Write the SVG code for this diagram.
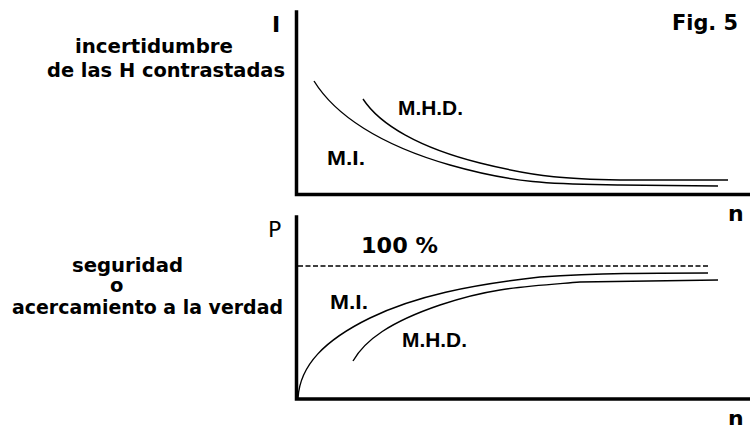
<svg xmlns="http://www.w3.org/2000/svg" width="750" height="425" viewBox="0 0 750 425">
<style>
.ax{stroke:#000;stroke-width:3.5;fill:none;stroke-linecap:square}
.cv{stroke:#000;stroke-width:1.4;fill:none}
.dash{stroke:#000;stroke-width:1.4;fill:none;stroke-dasharray:5 2.5}
.lb{font-family:"DejaVu Sans",sans-serif;font-weight:bold;font-size:19.5px;fill:#000}
.ml{font-family:"Liberation Sans",Arial,sans-serif;font-weight:bold;font-size:20.5px;fill:#000}
.big{font-family:"DejaVu Sans",sans-serif;font-weight:bold;font-size:22px;fill:#000}
</style>
<rect width="750" height="425" fill="#fff"/>
<g id="top-chart">
  <path class="ax" d="M296.5,12 V194.5 H750"/>
  <path class="cv" d="M314,81 C335,115 380,145 450,165 S560,184 620,185 L718,186"/>
  <path class="cv" d="M363,99 C380,125 420,148 480,163 S570,179 620,180 L728,180"/>
  <text class="ml" x="327" y="165" textLength="38" lengthAdjust="spacingAndGlyphs">M.I.</text>
  <text class="ml" x="398" y="115" textLength="65" lengthAdjust="spacingAndGlyphs">M.H.D.</text>
  <text class="big" x="276" y="32" text-anchor="middle" font-size="24">I</text>
  <text class="big" x="728" y="221">n</text>
</g>
<g id="bottom-chart">
  <path class="ax" d="M296.5,217 V399 H750"/>
  <path class="dash" d="M298,266 H709"/>
  <path class="cv" d="M298,398 C300,365 325,340 370,318 S470,285 540,277 C600,273 650,273 708,273"/>
  <path class="cv" d="M353,361 C365,340 390,322 440,305 S520,287 580,282 L718,280"/>
  <text class="ml" x="330" y="309" textLength="38" lengthAdjust="spacingAndGlyphs">M.I.</text>
  <text class="ml" x="402" y="347" textLength="65" lengthAdjust="spacingAndGlyphs">M.H.D.</text>
  <text class="big" x="361" y="253" textLength="77" lengthAdjust="spacingAndGlyphs">100 %</text>
  <text x="268" y="237" font-family="DejaVu Sans,sans-serif" font-size="22" fill="#000">P</text>
  <text class="big" x="728" y="426">n</text>
</g>
<g id="labels">
  <text class="big" x="672" y="30" textLength="66" lengthAdjust="spacingAndGlyphs">Fig. 5</text>
  <text class="lb" x="75" y="53" textLength="158" lengthAdjust="spacingAndGlyphs">incertidumbre</text>
  <text class="lb" x="47" y="77" textLength="238" lengthAdjust="spacingAndGlyphs">de las H contrastadas</text>
  <text class="lb" x="72" y="272" textLength="111" lengthAdjust="spacingAndGlyphs">seguridad</text>
  <text class="lb" x="110" y="292">o</text>
  <text class="lb" x="12" y="314" textLength="271" lengthAdjust="spacingAndGlyphs">acercamiento a la verdad</text>
</g>
</svg>
